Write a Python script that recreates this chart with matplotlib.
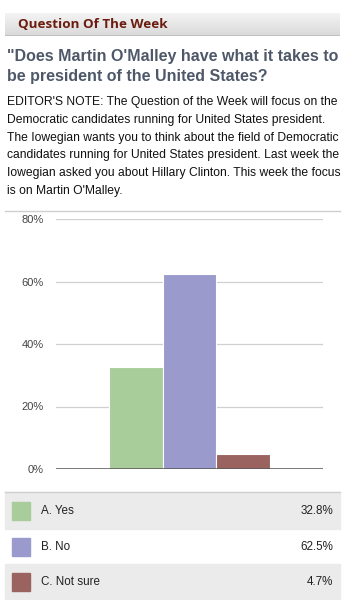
import matplotlib.pyplot as plt
import numpy as np
from matplotlib.patches import Rectangle
from matplotlib.colors import LinearSegmentedColormap

# poll results
answers = ["A. Yes", "B. No", "C. Not sure"]
shares = [32.8, 62.5, 4.7]
colors = ["#a9cc9b", "#9a9acc", "#9b6360"]
yticks = [0, 20, 40, 60, 80]

header = "Question Of The Week"
question = ["\"Does Martin O'Malley have what it takes to",
            "be president of the United States?"]
note_lines = [
    "EDITOR'S NOTE: The Question of the Week will focus on the",
    "Democratic candidates running for United States president.",
    "The Iowegian wants you to think about the field of Democratic",
    "candidates running for United States president. Last week the",
    "Iowegian asked you about Hillary Clinton. This week the focus",
    "is on Martin O'Malley.",
]

W, H = 345, 600
fig = plt.figure(figsize=(W / 100, H / 100), dpi=100)
fig.patch.set_facecolor("white")


def px(x, y):
    return x / W, 1 - y / H


# header band with a soft vertical gradient
grad = np.linspace(0, 1, 50).reshape(-1, 1)
hax = fig.add_axes([5 / W, 1 - 36 / H, 335 / W, 23 / H])
hax.imshow(grad, aspect="auto", extent=[0, 1, 0, 1],
           cmap=LinearSegmentedColormap.from_list("hdr", ["#f4f4f4", "#d9d9d9"]))
hax.axhline(0.02, color="#bdbdbd", lw=1.2)
hax.set_axis_off()
fig.text(*px(18, 25), header, fontsize=9.7, fontweight="bold",
         color="#6b1d10", family="Open Sans", va="center")

# question
for i, line in enumerate(question):
    fig.text(*px(7, 57 + i * 19), line, fontsize=11.5, fontweight="bold",
             color="#4e5868", family="Liberation Sans", va="center")

# editor's note
for i, line in enumerate(note_lines):
    fig.text(*px(7, 102 + i * 17.8), line, fontsize=8.7, color="#111111",
             family="Liberation Sans", va="center")

fig.add_artist(plt.Line2D([5 / W, 340 / W], [1 - 211 / H] * 2, color="#cfcfcf", lw=1))

# bar chart
ax = fig.add_axes([56 / W, 1 - 469 / H, 267 / W, 250 / H])
x = np.arange(len(answers))
ax.bar(x, shares, width=1.0, color=colors, edgecolor="white", linewidth=0.8, zorder=3)
ax.set_xlim(-1.5, 3.5)
ax.set_ylim(0, 80)
ax.set_yticks(yticks)
ax.set_yticklabels([f"{t}%" for t in yticks], fontsize=8.0, color="#444444",
                   family="Liberation Sans")
ax.tick_params(axis="y", length=0, pad=9)
ax.set_xticks([])
for t in yticks[1:]:
    ax.axhline(t, color="#d0d0d0", lw=0.9, zorder=1)
ax.axhline(0, color="#555555", lw=1.1, zorder=4)
for s in ax.spines.values():
    s.set_visible(False)

# legend table
fig.add_artist(plt.Line2D([5 / W, 340 / W], [1 - 492 / H] * 2, color="#cfcfcf", lw=1))
row_top = [492, 529, 564]
row_h = [37, 35, 36]
for i, (name, val, col) in enumerate(zip(answers, shares, colors)):
    top = row_top[i]
    if i != 1:
        fig.add_artist(Rectangle(px(5, top + row_h[i]), 335 / W, row_h[i] / H,
                                 transform=fig.transFigure, color="#ebebeb", zorder=0))
    cy = top + row_h[i] / 2
    fig.add_artist(Rectangle(px(12, cy + 9), 18 / W, 18 / H,
                             transform=fig.transFigure, color=col, zorder=2))
    fig.text(*px(41, cy), name, fontsize=8.4, color="#222222",
             family="Liberation Sans", va="center")
    fig.text(*px(333, cy), f"{val}%", fontsize=8.4, color="#222222",
             family="Liberation Sans", va="center", ha="right")

fig.savefig("out.png", dpi=100)
